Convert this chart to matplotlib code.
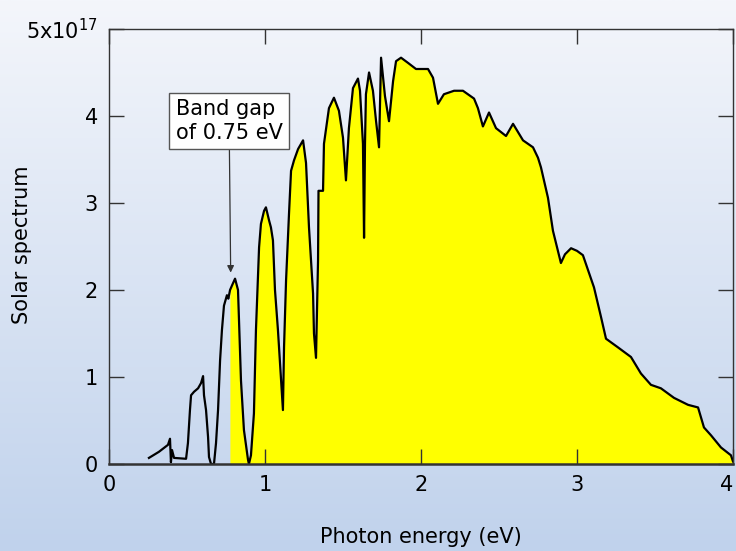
import numpy as np
import matplotlib
matplotlib.use('Agg')
import matplotlib.pyplot as plt
from matplotlib.colors import LinearSegmentedColormap

plt.rcParams['font.family'] = ['DejaVu Sans']
plt.rcParams['mathtext.default'] = 'regular'

# photon energy (eV) and solar spectrum (x1e17)
energy = [0.256, 0.32, 0.378, 0.391, 0.397, 0.404, 0.417, 0.494, 0.506, 0.519,
          0.526, 0.545, 0.571, 0.590, 0.603, 0.609, 0.622, 0.635, 0.641, 0.654,
          0.673, 0.686, 0.699, 0.712, 0.724, 0.737, 0.756, 0.765, 0.776, 0.788,
          0.808, 0.827, 0.846, 0.865, 0.891, 0.897, 0.910, 0.929, 0.942, 0.962,
          0.974, 0.994, 1.006, 1.026, 1.038, 1.051, 1.064, 1.083, 1.103, 1.115,
          1.122, 1.135, 1.154, 1.167, 1.186, 1.212, 1.244, 1.263, 1.282, 1.308,
          1.314, 1.327, 1.340, 1.343, 1.372, 1.378, 1.410, 1.442, 1.474, 1.500,
          1.519, 1.538, 1.564, 1.596, 1.609, 1.628, 1.635, 1.641, 1.647, 1.667,
          1.692, 1.712, 1.731, 1.744, 1.769, 1.795, 1.821, 1.840, 1.872, 1.917,
          1.968, 2.045, 2.077, 2.109, 2.147, 2.212, 2.269, 2.340, 2.365, 2.397,
          2.436, 2.481, 2.545, 2.590, 2.654, 2.718, 2.750, 2.769, 2.814, 2.846,
          2.897, 2.923, 2.962, 3.000, 3.038, 3.109, 3.154, 3.186, 3.263, 3.346,
          3.410, 3.474, 3.538, 3.622, 3.712, 3.776, 3.814, 3.859, 3.923, 3.987,
          4.0]
spectrum = [0.07, 0.14, 0.22, 0.29, 0.02, 0.16, 0.07, 0.06, 0.24, 0.62,
            0.79, 0.83, 0.87, 0.93, 1.01, 0.79, 0.62, 0.31, 0.08, 0.0,
            0.0, 0.24, 0.62, 1.19, 1.54, 1.82, 1.94, 1.90, 2.00, 2.05,
            2.13, 2.00, 0.96, 0.39, 0.05, 0.0, 0.10, 0.58, 1.54, 2.49,
            2.76, 2.91, 2.95, 2.80, 2.72, 2.57, 2.00, 1.54, 0.96, 0.62,
            1.34, 2.11, 2.88, 3.37, 3.49, 3.62, 3.72, 3.46, 2.72, 1.96,
            1.50, 1.22, 2.34, 3.14, 3.14, 3.68, 4.09, 4.21, 4.06, 3.75,
            3.26, 3.86, 4.32, 4.43, 4.29, 3.68, 2.60, 3.68, 4.25, 4.50,
            4.29, 3.94, 3.64, 4.67, 4.23, 3.94, 4.40, 4.63, 4.67, 4.61,
            4.54, 4.54, 4.44, 4.14, 4.25, 4.29, 4.29, 4.20, 4.09, 3.88,
            4.04, 3.86, 3.77, 3.91, 3.72, 3.64, 3.52, 3.41, 3.06, 2.68,
            2.31, 2.41, 2.48, 2.45, 2.40, 2.03, 1.69, 1.44, 1.34, 1.23,
            1.04, 0.91, 0.87, 0.76, 0.68, 0.65, 0.42, 0.33, 0.19, 0.10,
            0.03]

band_gap_start = 0.775
yticks = [0, 1, 2, 3, 4, 5]
ytick_labels = ['0', '1', '2', '3', '4', '5x10$^{17}$']
xticks = [0, 1, 2, 3, 4]

energy = np.array(energy)
spectrum = np.array(spectrum)

fig = plt.figure(figsize=(7.36, 5.51), dpi=100)

# gradient background behind everything
bg = fig.add_axes([0, 0, 1, 1], zorder=-1)
grad = np.linspace(0, 1, 256).reshape(-1, 1)
cmap = LinearSegmentedColormap.from_list('bg', ['#f4f6fb', '#c0d2ec'])
bg.imshow(grad, aspect='auto', cmap=cmap, extent=[0, 1, 0, 1])
bg.axis('off')

ax = fig.add_axes([0.1481, 0.1579, 0.8478, 0.7895])
ax.patch.set_alpha(0)

# yellow part above the band gap
mask = energy > band_gap_start
fx = np.concatenate([[band_gap_start], energy[mask]])
fy = np.concatenate([[np.interp(band_gap_start, energy, spectrum)], spectrum[mask]])
ax.fill_between(fx, 0, fy, color='#ffff00', linewidth=0, zorder=1)
ax.plot(energy, spectrum, color='black', linewidth=1.6, zorder=2)

ax.annotate('Band gap\nof 0.75 eV', xy=(0.78, 2.2), xytext=(0.77, 3.94),
            ha='center', va='center', fontsize=15, multialignment='left',
            linespacing=1.25,
            bbox=dict(boxstyle='square,pad=0.3', fc='white', ec='#555555', lw=1),
            arrowprops=dict(arrowstyle='-|>', color='#333333', lw=0.9,
                            mutation_scale=10, shrinkA=0, shrinkB=0))

ax.set_xlim(0, 4)
ax.set_ylim(0, 5)
ax.set_xticks(xticks)
ax.set_yticks(yticks)
ax.set_yticklabels(ytick_labels)
ax.tick_params(direction='in', length=11, width=1, color='#333333',
               labelsize=15, top=True, right=True, pad=8)
# last x label sits at the right edge, keep it inside the figure
ax.get_xticklabels()[-1].set_horizontalalignment('right')

for s in ax.spines.values():
    s.set_color('#333333')
    s.set_linewidth(1)
ax.spines['bottom'].set_linewidth(1.8)

ax.set_xlabel('Photon energy (eV)', fontsize=15)
ax.set_ylabel('Solar spectrum', fontsize=15)
ax.xaxis.set_label_coords(0.5, -0.168)
ax.yaxis.set_label_coords(-0.139, 0.503)
ax.xaxis.label.set_va('center')
ax.yaxis.label.set_va('center')

fig.savefig('out.png', dpi=100)
